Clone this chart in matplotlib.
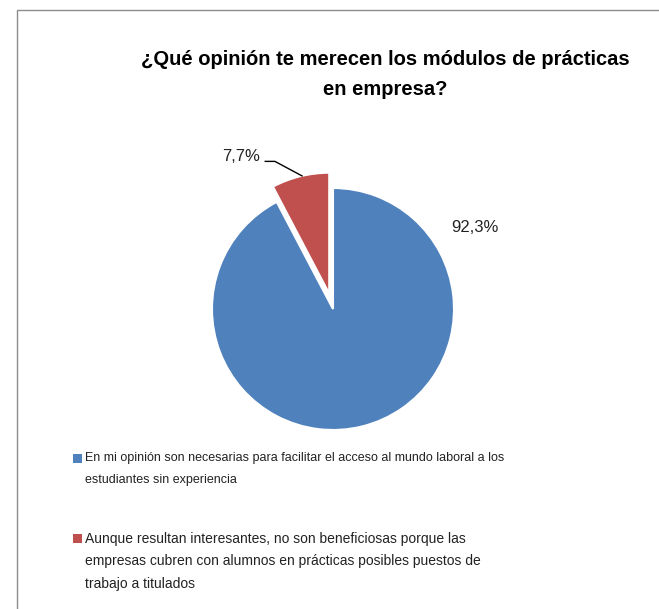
import matplotlib.pyplot as plt
from matplotlib.patches import Rectangle

# data
labels = ['En mi opinión son necesarias para facilitar el acceso al mundo laboral a los\nestudiantes sin experiencia',
          'Aunque resultan interesantes, no son beneficiosas porque las\nempresas cubren con alumnos en prácticas posibles puestos de\ntrabajo a titulados']
values = [92.3, 7.7]
pct_text = ['92,3%', '7,7%']
colors = ['#4f81bd', '#c0504d']
explode = [0, 0.13]
title = '¿Qué opinión te merecen los módulos de prácticas\nen empresa?'

W, H = 659, 609
fig = plt.figure(figsize=(W / 100, H / 100), dpi=100)
plt.rcParams['font.family'] = ['Liberation Sans', 'DejaVu Sans']

# chart border (left + top visible)
fig.patches.append(Rectangle((17 / W, -0.1), 1.2, 1 - 10 / H + 0.1, transform=fig.transFigure,
                             fill=False, edgecolor='#8c8c8c', lw=1))

# pie axes: center (333, 309) px, radius 121 px
cx, cy, r, half = 333, 309, 121, 150
ax = fig.add_axes([(cx - half) / W, (H - cy - half) / H, 2 * half / W, 2 * half / H])
ax.pie(values, colors=colors, startangle=90, counterclock=False, explode=explode,
       wedgeprops=dict(edgecolor='white', linewidth=1.5))
lim = half / r
ax.set_xlim(-lim, lim)
ax.set_ylim(-lim, lim)
ax.axis('off')

ax.text(1.17, 0.67, pct_text[0], fontsize=12, ha='center', va='center', color='#222222')
ax.text(-0.76, 1.26, pct_text[1], fontsize=12, ha='center', va='center', color='#222222')
ax.plot([-0.56, -0.48, -0.256], [1.22, 1.22, 1.10], color='black', lw=1)

fig.text(385 / W, 1 - 50 / H, title, fontsize=14.5, fontweight='bold', ha='center', va='top',
         linespacing=1.72)

# legend drawn by hand
leg_y = [452, 532]
fsz = [9, 10]
lsp = [2.15, 1.76]
for i in range(len(labels)):
    fig.patches.append(Rectangle((73 / W, 1 - (leg_y[i] + 11) / H), 9 / W, 9 / H,
                                 transform=fig.transFigure, facecolor=colors[i], edgecolor='none'))
    fig.text(85 / W, 1 - leg_y[i] / H, labels[i], fontsize=fsz[i], ha='left', va='top',
             linespacing=lsp[i], color='#222222')

fig.savefig('out.png', dpi=100)
